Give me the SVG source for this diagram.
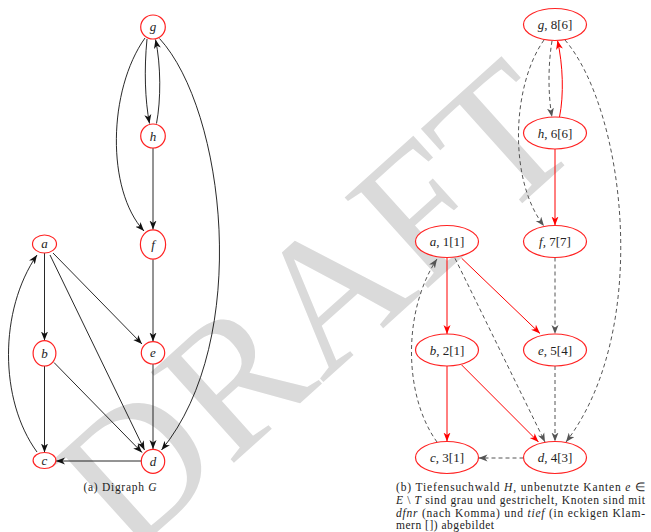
<svg xmlns="http://www.w3.org/2000/svg" width="651" height="532" viewBox="0 0 651 532">
<style>
.wm{font-family:"Liberation Serif",serif;font-size:188px;fill:#dadada}
.n{fill:#fff;stroke:#f22;stroke-width:1.2}
.lb{font-family:"Liberation Serif",serif;font-size:13px;fill:#222;text-anchor:middle}
.it{font-style:italic}
.ek{fill:none;stroke:#111;stroke-width:0.9;marker-end:url(#ak)}
.er{fill:none;stroke:#f00;stroke-width:1;marker-end:url(#ar)}
.eg{fill:none;stroke:#555;stroke-width:1;stroke-dasharray:4,3;marker-end:url(#ag)}
.cap{font-family:"Liberation Serif",serif;font-size:11.5px;fill:#222}
</style>
<defs>
<marker id="ak" markerUnits="userSpaceOnUse" markerWidth="10" markerHeight="8" refX="9" refY="4" orient="auto"><path d="M0,0.5 L9,4 L0,7.5 L2.5,4 Z" fill="#111"/></marker>
<marker id="ar" markerUnits="userSpaceOnUse" markerWidth="10" markerHeight="8" refX="9" refY="4" orient="auto"><path d="M0,0.5 L9,4 L0,7.5 L2.5,4 Z" fill="#f00"/></marker>
<marker id="ag" markerUnits="userSpaceOnUse" markerWidth="10" markerHeight="8" refX="9" refY="4" orient="auto"><path d="M0,0.5 L9,4 L0,7.5 L2.5,4 Z" fill="#555"/></marker>
</defs>
<text class="wm" transform="translate(128,558) rotate(-42)">DRAFT</text>

<g id="edges-a">
<path class="ek" d="M147,39 C144,70 145,100 149.5,123.5"/>
<path class="ek" d="M156.5,123.5 C161,100 161,65 155.5,39.5"/>
<path class="ek" d="M145,38 C108,90 106,190 144,231"/>
<path class="ek" d="M153,148 L153,229.5"/>
<path class="ek" d="M159.5,38.5 C225,110 252,340 161.5,450"/>
<path class="ek" d="M153,259.5 L153,341.5"/>
<path class="ek" d="M44.5,253 L44.5,340.5"/>
<path class="ek" d="M53,253 L142,344"/>
<path class="ek" d="M50,255 L144.5,450"/>
<path class="ek" d="M44.5,366 L44.5,452.5"/>
<path class="ek" d="M54,362.5 L142,452.5"/>
<path class="ek" d="M153,364 L153,449"/>
<path class="ek" d="M141.3,461 L56,461"/>
<path class="ek" d="M37,452 C-1,400 -1,310 37,255"/>
</g>

<g id="node-a-g"><ellipse class="n" cx="153" cy="27" rx="12.3" ry="12"/><text class="lb it" x="153" y="31">g</text></g>
<g id="node-a-h"><ellipse class="n" cx="153" cy="136" rx="12.3" ry="12"/><text class="lb it" x="153" y="140.5">h</text></g>
<g id="node-a-f"><ellipse class="n" cx="153" cy="244.5" rx="12.6" ry="14.6"/><text class="lb it" x="153" y="249">f</text></g>
<g id="node-a-a"><ellipse class="n" cx="44.5" cy="244" rx="12" ry="9"/><text class="lb it" x="44.5" y="248">a</text></g>
<g id="node-a-b"><ellipse class="n" cx="44.5" cy="353.3" rx="11.4" ry="12.7"/><text class="lb it" x="44.5" y="357.5">b</text></g>
<g id="node-a-e"><ellipse class="n" cx="153" cy="352.8" rx="11.7" ry="11.2"/><text class="lb it" x="153" y="357">e</text></g>
<g id="node-a-c"><ellipse class="n" cx="44.5" cy="460.5" rx="11.4" ry="8"/><text class="lb it" x="44.5" y="464.5">c</text></g>
<g id="node-a-d"><ellipse class="n" cx="153" cy="461.3" rx="11.7" ry="12"/><text class="lb it" x="153" y="465.5">d</text></g>

<text class="cap" x="83.5" y="490.5" textLength="73">(a) Digraph <tspan class="it">G</tspan></text>

<g id="edges-b">
<path class="eg" d="M552,41 C548,65 548,95 552,117"/>
<path class="er" d="M559.5,117 C564,95 563,65 557.5,40.5"/>
<path class="eg" d="M544,40 C512,85 508,180 544,226"/>
<path class="er" d="M555,149 L555,225.5"/>
<path class="eg" d="M565,40 C625,110 652,330 566,442"/>
<path class="eg" d="M555,257.5 L555,334"/>
<path class="er" d="M447,257.5 L447,334"/>
<path class="er" d="M461.7,258.3 L540,333.5"/>
<path class="eg" d="M455,258.3 L545,442"/>
<path class="er" d="M447,366 L447,441.5"/>
<path class="er" d="M461.7,365 L538.5,442"/>
<path class="eg" d="M555,366 L555,441.5"/>
<path class="eg" d="M523.5,458 L478.5,458"/>
<path class="eg" d="M437,442 C403,395 403,310 437,259"/>
</g>

<g id="node-b-g"><ellipse class="n" cx="555" cy="24.5" rx="31.5" ry="16"/><text class="lb" x="555" y="29"><tspan class="it">g</tspan>, 8[6]</text></g>
<g id="node-b-h"><ellipse class="n" cx="555" cy="133" rx="31.5" ry="16"/><text class="lb" x="555" y="137.5"><tspan class="it">h</tspan>, 6[6]</text></g>
<g id="node-b-f"><ellipse class="n" cx="555" cy="241.5" rx="31.5" ry="16"/><text class="lb" x="555" y="246"><tspan class="it">f</tspan>, 7[7]</text></g>
<g id="node-b-a"><ellipse class="n" cx="447" cy="241.5" rx="31.5" ry="16"/><text class="lb" x="447" y="246"><tspan class="it">a</tspan>, 1[1]</text></g>
<g id="node-b-b"><ellipse class="n" cx="447" cy="350" rx="31.5" ry="16"/><text class="lb" x="447" y="354.5"><tspan class="it">b</tspan>, 2[1]</text></g>
<g id="node-b-e"><ellipse class="n" cx="555" cy="350" rx="31.5" ry="16"/><text class="lb" x="555" y="354.5"><tspan class="it">e</tspan>, 5[4]</text></g>
<g id="node-b-c"><ellipse class="n" cx="447" cy="457.5" rx="31.5" ry="16"/><text class="lb" x="447" y="462"><tspan class="it">c</tspan>, 3[1]</text></g>
<g id="node-b-d"><ellipse class="n" cx="555" cy="457.5" rx="31.5" ry="16"/><text class="lb" x="555" y="462"><tspan class="it">d</tspan>, 4[3]</text></g>

<g id="caption-b">
<text class="cap" x="396" y="490.5" textLength="249">(b) Tiefensuchwald <tspan class="it">H</tspan>, unbenutzte Kanten <tspan class="it">e</tspan> ∈</text>
<text class="cap" x="396" y="503.5" textLength="249"><tspan class="it">E</tspan> \ <tspan class="it">T</tspan> sind grau und gestrichelt, Knoten sind mit</text>
<text class="cap" x="396" y="516.5" textLength="249"><tspan class="it">dfnr</tspan> (nach Komma) und <tspan class="it">tief</tspan> (in eckigen Klam-</text>
<text class="cap" x="396" y="529" textLength="98">mern []) abgebildet</text>
</g>
</svg>
